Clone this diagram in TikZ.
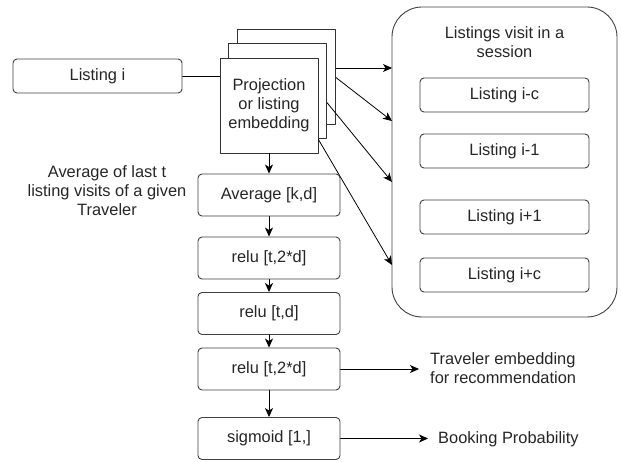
\documentclass[tikz,border=0pt]{standalone}
\usepackage{fontspec}
\setmainfont{Liberation Sans}
\usetikzlibrary{arrows.meta, positioning}

\begin{document}
\begin{tikzpicture}[x=1pt, y=-1pt, >={Stealth[length=9pt, width=8pt, inset=2.5pt]}, line cap=round, line join=round]
	
	\def\colx{269}
	\def\sesx{504.5}
	
	\tikzset{
		txt/.style={font=\fontsize{16.4}{19}\selectfont, text=black!85},
		lbox/.style={txt, draw=black!75, line width=0.9pt, rounded corners=4pt, fill=white,
			inner sep=0pt, align=center},
		listbox/.style={lbox, minimum width=169pt, minimum height=34pt},
		layerbox/.style={lbox, minimum width=142pt, minimum height=42pt},
		projbox/.style={txt, draw=black!80, line width=0.9pt, fill=white, inner sep=0pt,
			minimum width=98pt, minimum height=95pt, align=center},
		sesbox/.style={draw=black!75, line width=0.9pt, rounded corners=30pt,
			minimum width=225pt, minimum height=310pt, inner sep=0pt},
		conn/.style={->, line width=0.8pt, black},
		plain/.style={line width=0.8pt, black}
	}
	
	\useasboundingbox (0,0) rectangle (621,462);
	
	% input listing
	\node[listbox] (lst) at (97.5,76) {Listing i};
	
	% stacked projection boxes
	\node[projbox] (proj3) at (286.5,76.5) {};
	\node[projbox] (proj2) at (277.5,90.5) {};
	\node[projbox] (proj1) at (\colx,105.5) {Projection\\or listing\\embedding};
	
	\draw[plain] (lst.east) -- (lst.east -| proj1.west);
	
	% session context
	\node[sesbox] (ses) at (\sesx,162) {};
	\node[txt, align=center] (sestitle) at (\sesx,42.5) {Listings visit in a\\session};
	\node[listbox] (ctx1) at (\sesx,95) {Listing i-c};
	\node[listbox] (ctx2) at (\sesx,151) {Listing i-1};
	\node[listbox] (ctx3) at (\sesx,217) {Listing i+1};
	\node[listbox] (ctx4) at (\sesx,275) {Listing i+c};
	
	\coordinate (s1) at (392,68);
	\coordinate (s2) at (392,121);
	\coordinate (s3) at (392,182);
	\coordinate (s4) at (392,265);
	
	\draw[conn] (proj3.east |- s1) -- (s1);
	\draw[conn] ([yshift=-49pt]proj3.north east) -- (s2);
	\draw[conn] ([yshift=-60pt]proj2.north east) -- (s3);
	\draw[conn] ([yshift=-82pt]proj1.north east) -- (s4);
	
	% traveler tower
	\node[txt, align=center] (note) at (107,191) {Average of last t\\listing visits of a given\\Traveler};
	
	\node[layerbox] (avg)   at (\colx,195)   {Average [k,d]};
	\node[layerbox] (relua) at (\colx,258)   {relu [t,2*d]};
	\node[layerbox] (relub) at (\colx,313.5) {relu [t,d]};
	\node[layerbox] (reluc) at (\colx,369)   {relu [t,2*d]};
	\node[layerbox] (sigm)  at (\colx,438.5) {sigmoid [1,]};
	
	\draw[conn] (proj1.south) -- (avg.north);
	\draw[conn] (avg.south) -- (relua.north);
	\draw[conn] (relua.south) -- (relub.north);
	\draw[conn] (relub.south) -- (reluc.north);
	\draw[conn] (reluc.south) -- (sigm.north);
	
	% outputs
	\node[txt, align=left, anchor=west, inner sep=0pt] (travemb) at (430,368.5) {Traveler embedding\\for recommendation};
	\node[txt, anchor=west, inner sep=0pt] (bookp) at (438,439) {Booking Probability};
	
	\draw[conn, shorten >=11pt] (reluc.east) -- (reluc.east -| travemb.west);
	\draw[conn, shorten >=10pt] (sigm.east) -- (sigm.east -| bookp.west);
	
\end{tikzpicture}
\end{document}
